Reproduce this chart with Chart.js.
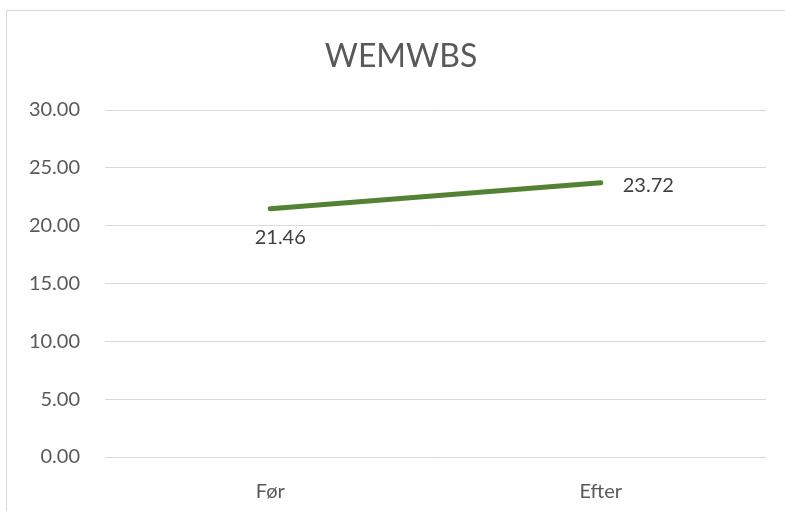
<!DOCTYPE html>
<html>
<head>
<meta charset="utf-8">
<script src="https://cdn.jsdelivr.net/npm/chart.js"></script>
<style>
  html, body { margin: 0; padding: 0; background: #fff; }
  #wrap { position: relative; width: 785px; height: 511px; }
  #frame {
    position: absolute; left: 6px; top: 10px; width: 790px; height: 520px;
    border: 1px solid #d9d9d9; box-sizing: border-box; pointer-events: none;
  }
</style>
</head>
<body>
<div id="wrap">
  <canvas id="chart" width="785" height="511"></canvas>
  <div id="frame"></div>
</div>
<script>
const chartTitle = 'WEMWBS';
const categories = ['Før', 'Efter'];
const scores = [21.46, 23.72];
const labelPositions = ['below', 'right'];

const textColor = '#595959';
const fontFamily = "Lato, 'Open Sans', sans-serif";

// title centred on the whole frame, not just the chart area
const frameTitle = {
    id: 'frameTitle',
    afterDraw(chart) {
        const {ctx} = chart;
        ctx.save();
        ctx.font = `32px ${fontFamily}`;
        ctx.fillStyle = textColor;
        ctx.textAlign = 'center';
        ctx.textBaseline = 'alphabetic';
        ctx.fillText(chartTitle, 401, 67);
        ctx.restore();
    }
};

// data labels next to each point, like Excel does it
const pointLabels = {
    id: 'pointLabels',
    afterDatasetsDraw(chart) {
        const {ctx} = chart;
        const meta = chart.getDatasetMeta(0);
        ctx.save();
        ctx.font = `20px ${fontFamily}`;
        ctx.fillStyle = '#404040';
        ctx.textBaseline = 'alphabetic';
        meta.data.forEach((pt, i) => {
            const txt = scores[i].toFixed(2);
            if (labelPositions[i] === 'below') {
                ctx.textAlign = 'center';
                ctx.fillText(txt, pt.x + 10, pt.y + 35);
            } else {
                ctx.textAlign = 'left';
                ctx.fillText(txt, pt.x + 22, pt.y + 9);
            }
        });
        ctx.restore();
    }
};

new Chart(document.getElementById('chart'), {
    type: 'line',
    data: {
        labels: categories,
        datasets: [{
            data: scores,
            borderColor: '#548235',
            borderWidth: 5,
            borderCapStyle: 'round',
            pointRadius: 0,
            fill: false,
            tension: 0
        }]
    },
    options: {
        responsive: false,
        animation: false,
        layout: { padding: { left: 0, right: 19, top: 110, bottom: 0 } },
        plugins: {
            legend: { display: false },
            tooltip: { enabled: false },
            title: { display: false }
        },
        scales: {
            x: {
                offset: true,
                grid: { display: false },
                border: { display: false },
                ticks: {
                    color: textColor,
                    font: { family: fontFamily, size: 20 },
                    padding: 15
                },
                afterFit: s => { s.height = 54; }
            },
            y: {
                min: 0,
                max: 30,
                border: { display: false },
                grid: { color: '#d9d9d9', lineWidth: 1, drawTicks: false },
                ticks: {
                    stepSize: 5,
                    color: textColor,
                    font: { family: fontFamily, size: 20 },
                    padding: 25,
                    callback: v => v.toFixed(2)
                },
                afterFit: s => { s.width = 105; }
            }
        }
    },
    plugins: [pointLabels, frameTitle]
});
</script>
</body>
</html>
